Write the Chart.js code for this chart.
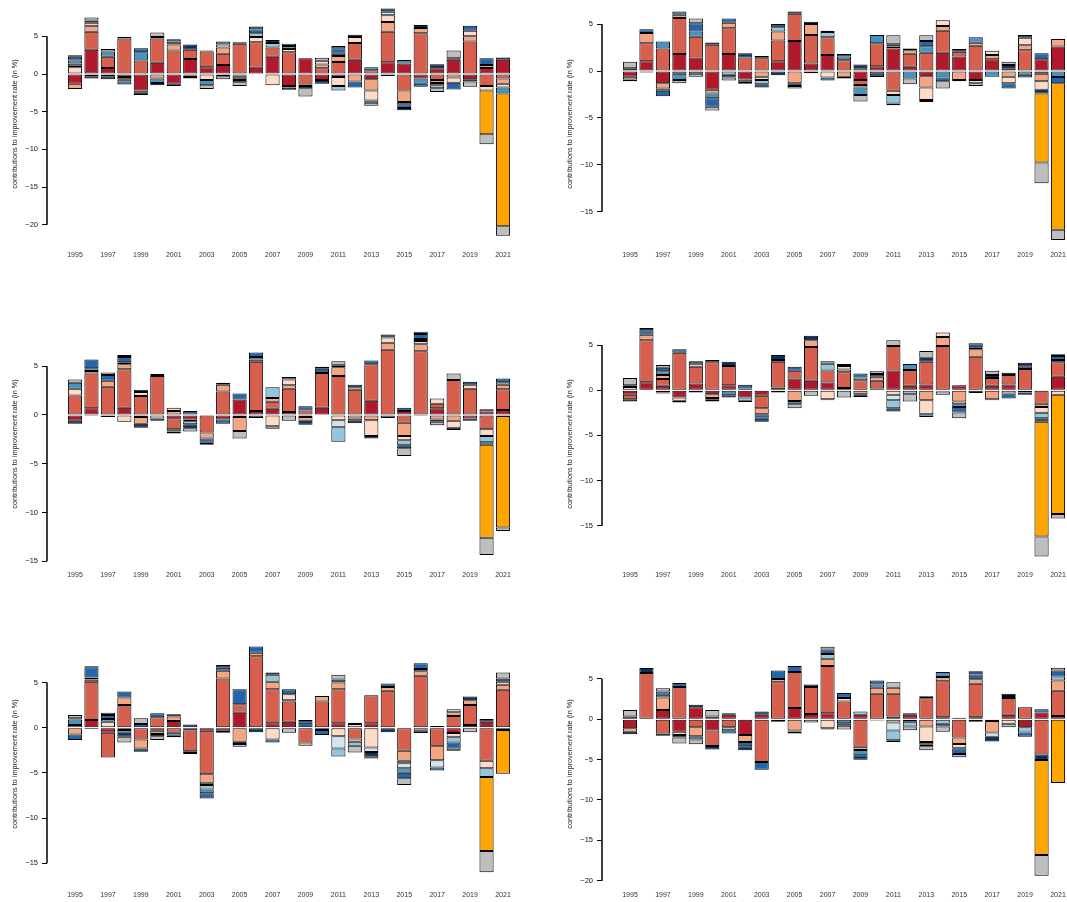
<!DOCTYPE html>
<html>
<head>
<meta charset="utf-8">
<script src="https://cdn.jsdelivr.net/npm/chart.js@4/dist/chart.umd.min.js"></script>
<style>
  body { margin: 0; background: #fff; width: 1067px; height: 902px; overflow: hidden; position: relative; }
  canvas { position: absolute; }
</style>
</head>
<body>
<script>
const years = [1995, 1996, 1997, 1998, 1999, 2000, 2001, 2002, 2003, 2004, 2005, 2006, 2007, 2008,
  2009, 2010, 2011, 2012, 2013, 2014, 2015, 2016, 2017, 2018, 2019, 2020, 2021];
const yearTicks = [1995, 1997, 1999, 2001, 2003, 2005, 2007, 2009, 2011, 2013, 2015, 2017, 2019, 2021];
const ticksTo20 = [-20, -15, -10, -5, 0, 5];
const ticksTo15 = [-15, -10, -5, 0, 5];
const axisTitle = 'contributions to improvement rate (in %)';

// stacking order: first series sits next to zero
const seriesNames = ['darkred', 'red', 'salmon', 'peach', 'paleblue', 'ltblue', 'blue', 'dkblue', 'navy', 'orange', 'grey'];
const seriesColors = ['#B2182B', '#D6604D', '#F4A582', '#FDDBC7', '#D1E5F0', '#92C5DE', '#4393C3', '#2166AC', '#053061', '#FFA500', '#BEBEBE'];

// panel 1 (top left)
const p1DarkRed = [-1.3, 3.2, 0.8, -0.4, -2.2, 1.5, -1.3, 2.0, 0.9, 1.2, -0.2, 1.0, 2.3, -1.6, 2.1, -0.8, -0.4, 1.9, -0.7, 1.55, 1.4, -0.6, 0.75, 1.9, -0.7, 0.8, 1.9];
const p1Red = [0, 2.4, 1.5, 4.7, 1.8, 3.2, 3.1, 1.2, 2.1, 1.5, 4.0, 3.2, 1.2, 2.9, -1.4, 0.75, 1.6, 2.2, 0.5, 4.05, -2.2, 5.4, -0.8, 0, 4.3, -1.6, -0.6];
const p1Salmon = [-0.7, 0.8, 0, 0, -0.3, -0.6, 0.8, -0.2, 0, 0.8, -0.3, 0, 0, -0.2, -0.2, 0.5, 0.8, -1.0, -1.5, 1.3, -1.5, 0.7, -0.4, -0.45, 0.7, 0.4, -0.7];
const p1Peach = [0.9, 0.4, -0.3, -0.3, 0, 0.2, 0, -0.2, -0.8, 0.4, -0.3, 0.7, -1.5, 0.4, 0, 0.5, -1.2, 0.8, -1.3, 0.9, 0, 0, -0.3, -0.7, 0.75, -0.6, -0.5];
const p1PaleBlue = [0.2, 0, 0, 0, 0, 0, 0, 0, 0, -0.3, 0, 0, 0, 0, 0, 0, 0, 0, -0.3, 0.45, -0.3, 0, 0, 0, 0, 0, 0];
const p1LtBlue = [0.3, 0, 0, -0.3, 0, 0, -0.3, 0, 0, 0, 0, 0.5, 0.6, 0, 0, 0, -0.6, 0, -0.4, 0, 0, 0, -0.4, 0, 0, 0, 0];
const p1Blue = [0.4, -0.3, 0.7, 0, 1.1, -0.6, 0, 0, -0.7, 0, -0.3, 0, 0, 0.4, 0, 0, 0.3, 0, 0.4, 0, 0.45, -0.7, 0, 0, 0, 0, -0.8];
const p1DkBlue = [0.5, -0.3, 0, -0.4, 0.5, 0, 0, 0, 0, 0.4, 0, 0.5, 0, 0, 0, 0, 0.7, -0.8, 0, -0.25, -0.5, -0.4, 0, -0.9, 0.65, 0.9, 0];
const p1Navy = [0, 0.3, -0.4, 0.25, -0.3, -0.3, 0.4, 0.7, 0.1, 0, 0.2, 0.4, 0.4, -0.3, -0.3, -0.5, 0, 0.3, 0, 0.45, -0.3, 0.4, 0.55, 0.2, -0.3, 0, 0.3];
const p1Orange = [0, 0, 0, 0, 0, 0, 0, 0, 0, 0, 0, 0, 0, 0, 0, 0, 0, 0, 0, 0, 0, 0, 0, 0, 0, -5.8, -17.6];
const p1Grey = [0.2, 0.4, 0.3, 0, 0, 0.6, 0.3, -0.2, -0.5, -0.4, -0.5, 0, 0, 0.3, -1.1, 0.4, 0.3, 0, 0, 0, 0, 0, -0.5, 1.0, -0.7, -1.3, -1.25];

// panel 2 (top right)
const p2DarkRed = [-0.6, 1.05, -1.3, 1.8, 1.45, -2.0, 1.8, -0.9, 0, 1.05, 3.2, 0.8, 1.7, 0, -0.95, 0.5, 2.4, 0.45, -0.55, 1.95, 1.55, -0.95, 1.25, 0.3, 0, 1.25, 2.6];
const p2Red = [0, 1.9, 2.4, 3.85, 2.2, 2.8, 2.75, 1.45, 1.35, 2.2, 2.9, 3.05, 1.9, 1.15, -0.55, 2.45, -2.1, 1.4, 1.95, 2.35, 0.5, 2.7, 0, 0, 2.2, -0.3, 0];
const p2Salmon = [-0.3, 1.1, -0.55, 0.35, -0.3, -0.4, 0.6, -0.25, -0.6, 0.95, -1.3, 1.15, 0, -0.6, -0.25, -0.3, 0.2, 0.35, -1.2, 0.5, -0.95, 0.3, 0.45, -0.6, 0.55, -0.8, 0.8];
const p2Peach = [0, 0, -0.25, -0.3, 0, 0, 0, 0, -0.35, 0, 0, 0, -0.7, -0.2, 0.3, 0, -0.45, 0, -1.35, 0.6, 0, -0.35, 0.45, -0.7, 0.8, -0.9, 0];
const p2PaleBlue = [0, 0, 0, 0, 0, 0, 0, 0, 0, 0, 0, 0, 0, 0, 0, 0, 0, 0, 0, 0, 0, 0, 0, 0, 0, 0, 0];
const p2LtBlue = [0, 0, 0, 0, -0.3, 0, -0.4, 0, -0.45, 0.45, 0, 0, 0.55, 0, 0, 0, -0.9, 0, 0, 0, 0, 0, 0, 0, 0, 0, 0];
const p2Blue = [0, 0, 0.75, -0.65, 0.55, -0.5, 0, 0, 0, 0, 0, -0.25, 0, 0.4, -0.8, 0.9, 0, -0.8, 0.7, -0.7, 0, 0.6, -0.6, 0, -0.4, 0, -0.65];
const p2DkBlue = [-0.2, 0.4, -0.6, 0.35, 0.9, -0.9, 0.45, -0.2, 0, 0.35, 0.25, 0, -0.3, 0, 0, -0.35, -0.2, 0, 0.55, -0.4, -0.15, 0, 0, -0.55, -0.3, 0.65, -0.65];
const p2Navy = [0.3, -0.15, 0, 0, 0, 0.25, -0.3, 0.45, -0.35, -0.45, -0.3, 0.25, 0.15, 0.25, 0.4, 0, 0.25, 0.2, -0.2, 0, 0.3, 0, 0, 0.35, 0.3, -0.4, 0];
const p2Orange = [0, 0, 0, 0, 0, 0, 0, 0, 0, 0, 0, 0, 0, 0, 0, 0, 0, 0, 0, 0, 0, 0, 0, 0, 0, -7.35, -15.6];
const p2Grey = [0.7, 0, 0, -0.35, 0.5, -0.4, -0.3, 0, 0.25, 0, -0.25, 0, 0, 0, -0.7, 0, 0.95, -0.6, 0.6, -0.75, 0, -0.3, 0, 0.35, 0, -2.2, -1.1];

// panel 3 (middle left)
const p3DarkRed = [-0.6, 0.7, 0, 0.75, -0.2, 0, -0.45, -0.45, 0, -0.45, 1.6, 0.4, 0.65, 0.3, -0.2, 0.75, 0, 0, 1.45, 0, 0.4, 0, 0.7, 0, -0.35, 0.35, 0.5];
const p3Red = [2.0, 3.55, 2.9, 3.95, 1.95, 4.0, -1.0, 0, -1.8, 2.4, -0.2, 5.05, 0.7, 2.4, 0.45, 3.55, 4.0, 2.6, 3.75, 6.7, -0.8, 6.55, 0.45, 3.6, 2.7, -1.45, 2.15];
const p3Salmon = [0, 0.25, 0.6, 0.5, -0.7, 0, 0.4, -0.2, -0.6, 0.7, -1.45, 0.25, 0.4, 0.35, -0.4, 0, 0.9, -0.35, -0.55, 0.7, -1.35, 0.7, -0.45, -0.6, 0, 0.25, 0.45];
const p3Peach = [0.7, 0, 0, -0.7, 0.4, -0.35, 0.35, 0, 0, 0, 0, 0, -1.15, 0.6, 0, 0, -0.55, 0.25, -1.6, 0.55, -0.45, 0.35, 0.55, -0.7, 0.4, -0.7, 0];
const p3PaleBlue = [0, 0, 0, 0, 0, 0, 0, 0, 0, 0, 0, 0, 0, 0, 0, 0, -0.7, 0, 0, 0, 0, 0.2, 0, 0, 0, 0, 0];
const p3LtBlue = [0, 0, 0, 0, 0, 0, -0.25, -0.3, 0, 0, 0, 0, 1.1, 0, 0, 0, -1.5, -0.25, 0, 0, -0.5, 0, 0, 0, 0, -0.65, 0.25];
const p3Blue = [0.6, 0.3, 0, 0.2, 0, -0.25, 0, 0, 0, 0, 0, 0.25, 0, 0, 0, 0, 0, 0, 0, 0, 0, 0, 0, 0, 0, -0.25, 0];
const p3DkBlue = [0, 0.9, 0.6, 0.55, 0.25, 0, 0, 0.4, -0.45, -0.45, 0.6, 0.45, 0, 0.25, 0.45, 0.45, 0, 0.25, 0.4, -0.3, 0.35, 0.5, 0, 0, -0.25, 0, 0.4];
const p3Navy = [-0.3, -0.1, -0.2, 0.2, -0.4, 0.2, -0.2, -0.4, -0.2, 0.2, 0, -0.3, 0, 0, -0.4, 0.2, 0.2, -0.25, -0.25, 0.3, -0.3, -0.1, -0.25, -0.25, 0.3, 0, -0.1];
const p3Orange = [0, 0, 0, 0, 0, 0, 0, 0, 0, 0, 0, 0, 0, 0, 0, 0, 0, 0, 0, 0, 0, 0, 0, 0, 0, -9.55, -11.45];
const p3Grey = [0.35, 0, 0.25, 0, 0, 0, 0, -0.35, 0, 0, -0.75, 0, -0.25, -0.6, 0, 0, 0.4, 0, 0, 0, -0.8, 0.25, -0.35, 0.65, 0, -1.75, -0.35];

// panel 4 (middle right)
const p4DarkRed = [-0.5, 0.9, 0.5, -0.8, 0.75, -0.45, 0.55, -0.8, -0.6, 0.3, 1.3, 1.05, 0.85, 0.25, 0, 0.2, 2.2, 0.5, 0.65, 0, 0.55, 0, 0.5, 0.65, -0.25, 0, 1.5];
const p4Red = [-0.5, 4.65, 0.75, 4.15, 1.85, 3.1, 2.15, 0, -1.4, 2.85, 0.85, 3.75, 1.35, 1.75, 1.1, 0.85, 2.7, 1.75, 2.5, 4.9, 0, 3.7, 0.85, 1.05, 2.35, -1.5, 1.6];
const p4Salmon = [0, 0.6, 0.45, 0, 0, -0.4, 0, 0, -0.65, 0, -1.2, 0.75, 0, 0.3, -0.45, 0.45, 0, 0, -1.1, 1.0, -1.25, 0.85, -1.0, 0, 0.25, -0.35, 0.25];
const p4Peach = [0, 0, -0.25, -0.35, 0.35, -0.2, 0, 0, 0, 0.2, 0, 0, -1.0, 0.4, 0, 0, -0.5, 0, -1.55, 0.5, -0.3, 0.2, 0, -0.35, 0, -0.65, -0.5];
const p4PaleBlue = [0.35, 0, 0, 0, 0, 0, 0, 0.2, 0, 0, 0, 0, 0, 0, 0, 0, -0.6, 0, 0, 0, 0, 0, 0, 0, 0, 0, 0];
const p4LtBlue = [0, 0, 0, 0, 0, 0, 0, -0.35, 0, 0, 0, 0, 0.75, 0, 0.3, 0, -0.9, -0.45, 0, 0, 0, 0, 0, 0, 0, -0.6, 0];
const p4Blue = [0.2, 0, 0.4, 0, -0.25, 0, -0.55, 0, 0, 0, -0.35, 0, 0, 0, 0, 0, 0, 0.65, -0.3, 0, -0.3, 0, 0, 0, 0, 0, 0];
const p4DkBlue = [0, 0.5, 0.4, 0.4, 0, 0, -0.25, 0.4, -0.5, -0.25, 0.45, 0, 0, 0.2, 0.45, 0, 0, 0, 0, 0, -0.6, 0.45, -0.1, -0.55, -0.25, 0, 0.45];
const p4Navy = [-0.25, 0.25, -0.1, -0.2, 0.25, -0.2, 0.45, -0.15, -0.35, 0.55, 0, 0.5, -0.1, 0, -0.3, 0.3, -0.35, 0, 0.45, -0.15, 0, -0.3, 0.35, 0.25, 0.45, -0.4, 0.2];
const p4Orange = [0, 0, 0, 0, 0, 0, 0, 0, 0, 0, 0, 0, 0, 0, 0, 0, 0, 0, 0, 0, 0, 0, 0, 0, 0, -12.7, -13.2];
const p4Grey = [0.8, 0, 0.3, 0, 0, 0.25, 0, 0, 0, 0, -0.45, -0.6, 0.25, -0.8, 0, 0.3, 0.65, -0.8, 0.75, -0.35, -0.65, 0, 0.45, 0, 0, -2.2, -0.5];

// panel 5 (bottom left)
const p5DarkRed = [0, 0.85, -0.55, -0.25, 0, -0.35, 0.75, -0.3, -0.35, -0.35, 1.65, 0, 0.5, 0.65, 0, 0, 0.5, 0, 0.5, 0, 0, 0, 0, -0.6, 0.3, 0.65, 0];
const p5Red = [0, 4.25, -2.75, 2.5, -1.3, 1.15, -0.55, -2.3, -4.8, 5.45, 0.95, 7.9, 3.75, 2.25, -1.65, 2.9, 3.75, -1.2, 3.1, 4.1, -2.55, 5.75, -2.05, 1.3, 2.2, -3.65, 4.2];
const p5Salmon = [-0.75, 0.25, 0, 0.85, -1.0, -0.35, 0.5, 0, -0.95, 0.85, -1.55, 0.4, 0.85, 0.15, -0.35, 0.6, 0.75, -0.35, 0, 0.4, -1.1, 0.5, -1.55, 0.4, 0.55, 0, 0.55];
const p5Peach = [0.3, 0.2, 0.65, 0, 0, 0, 0, 0, -0.25, 0, 0, 0, -1.3, 0.65, 0, 0, -0.95, 0.4, -2.2, 0, -0.3, 0, 0, -0.45, 0, -0.85, 0.35];
const p5PaleBlue = [0, 0, 0, 0, 0, 0, 0, -0.2, 0, 0, 0, 0, 0, 0, 0, -0.25, -1.35, 0, -0.5, 0, -0.55, 0.25, -0.8, 0.35, 0, 0, 0];
const p5LtBlue = [0, 0, 0, 0, 0, 0, 0, 0, -0.5, 0, 0, 0, 0.75, 0, 0, 0, -0.9, -0.45, 0, 0, 0, -0.35, 0, -0.6, 0, -0.95, 0];
const p5Blue = [0.6, 0, 0.3, -0.3, 0, 0, -0.35, 0, -0.4, 0, 0, 0, 0, 0, 0, 0, 0, 0, 0, 0, -0.5, 0, 0, 0, 0, 0, 0];
const p5DkBlue = [-0.6, 1.15, 0.45, 0.65, 0.4, 0.45, -0.15, -0.1, -0.6, 0.35, 1.65, 0.7, -0.35, 0.55, 0.55, -0.55, 0, 0, 0, 0.4, -0.6, 0.65, -0.35, -0.65, 0, 0, -0.25];
const p5Navy = [0.15, -0.15, 0, -0.45, -0.35, -0.25, 0.25, 0.35, 0, 0.3, -0.25, -0.5, 0.25, 0, 0.3, 0, 0.35, 0.15, -0.45, -0.5, 0, 0, 0.2, 0, 0.4, 0.3, 0.35];
const p5Orange = [0, 0, 0, 0, 0, 0, 0, 0, 0, 0, 0, 0, 0, 0, 0, 0, 0, 0, 0, 0, 0, 0, 0, 0, 0, -8.2, -4.85];
const p5Grey = [0.35, 0.1, 0.25, -0.65, 0.65, -0.4, 0, 0, 0, -0.2, -0.3, 0, 0, -0.55, 0, 0, 0.5, -0.75, -0.25, 0, -0.75, -0.25, 0, -0.25, -0.5, -2.35, 0.65];

// panel 6 (bottom right)
const p6DarkRed = [-1.1, 0, 1.15, -1.55, 1.5, -1.4, 0.55, -1.95, 0.55, 0, 1.4, 0.65, 0.75, 0, 0.55, 0, 0.35, 0.55, 0, 0.25, 0.2, 0.25, 0, 0.55, -1.0, 0.85, 0.4];
const p6Red = [0, 5.75, -1.75, 4.0, -1.0, -1.9, -1.0, 0, -5.3, 4.6, 4.45, 3.35, 5.85, 2.2, -3.4, 3.15, 2.8, -0.3, 2.6, 4.45, -2.25, 4.15, -0.2, 2.1, 1.5, -4.35, 3.15];
const p6Salmon = [-0.45, 0, 1.55, 0, -1.1, 0, 0, -0.85, 0, 0.4, -1.4, 0, 0.9, 0, -0.4, 0.75, 0.75, 0, -0.9, 0.55, -0.8, 0.55, -1.45, 0.25, 0, 0, 1.25];
const p6Peach = [0, 0, 0, -0.4, 0, 0, 0, 0, 0, 0, 0, 0, -1.1, 0.45, 0, 0, -0.4, 0, -1.9, 0, -0.55, 0, 0, -0.55, 0, 0, 0];
const p6PaleBlue = [0, 0, 0, 0, 0, 0, 0, 0, 0, 0, 0, 0, 0, 0, 0, 0, -1.0, 0, -0.3, 0, 0, 0, -0.5, 0, 0, 0, 0];
const p6LtBlue = [0, 0, 0, 0, 0, 0, -0.35, 0, 0, 0, 0, 0, 0.6, 0, 0.4, 0, -1.2, -0.6, 0, -0.55, 0, 0, 0, 0, -0.65, 0, 0.5];
const p6Blue = [0.35, 0, 0.35, 0, 0, 0.35, 0, 0, 0, 0, 0, 0, 0, -0.5, -0.65, 0.4, 0, 0, 0, 0.6, 0, -0.3, 0, 0, 0, 0, 0];
const p6DkBlue = [0, 0, 0.4, 0.5, -0.4, 0, -0.4, -0.55, -0.95, 1.05, 0.75, 0, 0.55, 0.6, 0, 0.5, 0, 0, -0.25, -0.35, -0.7, 0.6, 0, 0, -0.5, 0.4, 0.75];
const p6Navy = [-0.3, 0.6, -0.3, -0.3, 0.3, -0.45, 0.2, -0.5, 0.4, -0.3, -0.1, 0.3, -0.15, -0.3, -0.55, -0.15, -0.2, 0.2, 0.25, 0, 0, 0.4, -0.6, 0.25, 0, -0.7, 0];
const p6Orange = [0, 0, 0, 0, 0, 0, 0, 0, 0, 0, 0, 0, 0, 0, 0, 0, 0, 0, 0, 0, 0, 0, 0, 0, 0, -11.75, -7.9];
const p6Grey = [0.8, 0, 0.4, -0.75, -0.6, 0.8, 0, 0, 0, 0, -0.25, -0.4, 0.35, -0.45, 0, 0, 0.7, -0.45, -0.5, -0.65, -0.4, 0, 0, -0.45, 0, -2.6, 0.35];

const panels = [
  { series: [p1DarkRed, p1Red, p1Salmon, p1Peach, p1PaleBlue, p1LtBlue, p1Blue, p1DkBlue, p1Navy, p1Orange, p1Grey], ticks: ticksTo20, yMin: -22.94, yMax: 9.68 },
  { series: [p2DarkRed, p2Red, p2Salmon, p2Peach, p2PaleBlue, p2LtBlue, p2Blue, p2DkBlue, p2Navy, p2Orange, p2Grey], ticks: ticksTo15, yMin: -18.75, yMax: 7.46 },
  { series: [p3DarkRed, p3Red, p3Salmon, p3Peach, p3PaleBlue, p3LtBlue, p3Blue, p3DkBlue, p3Navy, p3Orange, p3Grey], ticks: ticksTo15, yMin: -15.59, yMax: 9.64 },
  { series: [p4DarkRed, p4Red, p4Salmon, p4Peach, p4PaleBlue, p4LtBlue, p4Blue, p4DkBlue, p4Navy, p4Orange, p4Grey], ticks: ticksTo15, yMin: -19.57, yMax: 7.67 },
  { series: [p5DarkRed, p5Red, p5Salmon, p5Peach, p5PaleBlue, p5LtBlue, p5Blue, p5DkBlue, p5Navy, p5Orange, p5Grey], ticks: ticksTo15, yMin: -17.64, yMax: 9.6 },
  { series: [p6DarkRed, p6Red, p6Salmon, p6Peach, p6PaleBlue, p6LtBlue, p6Blue, p6DkBlue, p6Navy, p6Orange, p6Grey], ticks: ticksTo20, yMin: -20.78, yMax: 9.7 }
];

const fontFamily = "'Liberation Sans', Arial, sans-serif";

// R style axis: line only between first and last tick
const axisLine = {
  id: 'axisLine',
  afterDraw(chart) {
    const ys = chart.scales.y;
    const t = ys.ticks;
    const x = chart.chartArea.left;
    const ctx = chart.ctx;
    ctx.save();
    ctx.strokeStyle = '#000';
    ctx.lineWidth = 1.5;
    ctx.beginPath();
    ctx.moveTo(x, ys.getPixelForValue(t[0].value));
    ctx.lineTo(x, ys.getPixelForValue(t[t.length - 1].value));
    ctx.stroke();
    ctx.restore();
  }
};

panels.forEach((p, idx) => {
  const col = idx % 2, row = Math.floor(idx / 2);
  const cv = document.createElement('canvas');
  cv.width = 555;
  cv.height = 320;
  cv.style.left = (col * 555) + 'px';
  cv.style.top = (-20 + row * 320) + 'px';
  document.body.appendChild(cv);

  new Chart(cv.getContext('2d'), {
    type: 'bar',
    data: {
      datasets: p.series.map((vals, k) => ({
        label: seriesNames[k],
        data: years.map((yr, i) => ({ x: yr, y: vals[i] })).filter(d => d.y !== 0),
        backgroundColor: seriesColors[k],
        borderColor: '#000',
        borderWidth: 1,
        borderSkipped: false,
        barPercentage: 0.86,
        categoryPercentage: 1
      }))
    },
    options: {
      responsive: false,
      animation: false,
      devicePixelRatio: 1,
      layout: { padding: { left: 4, top: 21, right: 24, bottom: 0 } },
      plugins: { legend: { display: false }, tooltip: { enabled: false } },
      scales: {
        x: {
          type: 'linear',
          stacked: true,
          offset: false,
          min: 1993.3,
          max: 2022.7,
          grid: { display: false, drawTicks: false },
          border: { display: false },
          afterBuildTicks: s => { s.ticks = yearTicks.map(v => ({ value: v })); },
          afterFit: s => { s.height = 53; },
          ticks: {
            padding: 4,
            autoSkip: false,
            maxRotation: 0,
            color: '#333',
            font: { family: fontFamily, size: 7 },
            callback: v => String(v)
          }
        },
        y: {
          stacked: true,
          min: p.yMin,
          max: p.yMax,
          afterBuildTicks: s => { s.ticks = p.ticks.map(v => ({ value: v })); },
          afterFit: s => { s.width = 43; },
          grid: { drawOnChartArea: false, drawTicks: true, tickLength: 5, color: '#000', lineWidth: 1 },
          border: { display: false },
          ticks: {
            padding: 4,
            color: '#111',
            font: { family: fontFamily, size: 7.5 },
            callback: v => v < 0 ? '\u2212' + Math.abs(v) : String(v)
          },
          title: {
            display: true,
            text: axisTitle,
            color: '#222',
            font: { family: fontFamily, size: 7.3 },
            padding: { top: 7, bottom: 0 }
          }
        }
      }
    },
    plugins: [axisLine]
  });
});
</script>
</body>
</html>
